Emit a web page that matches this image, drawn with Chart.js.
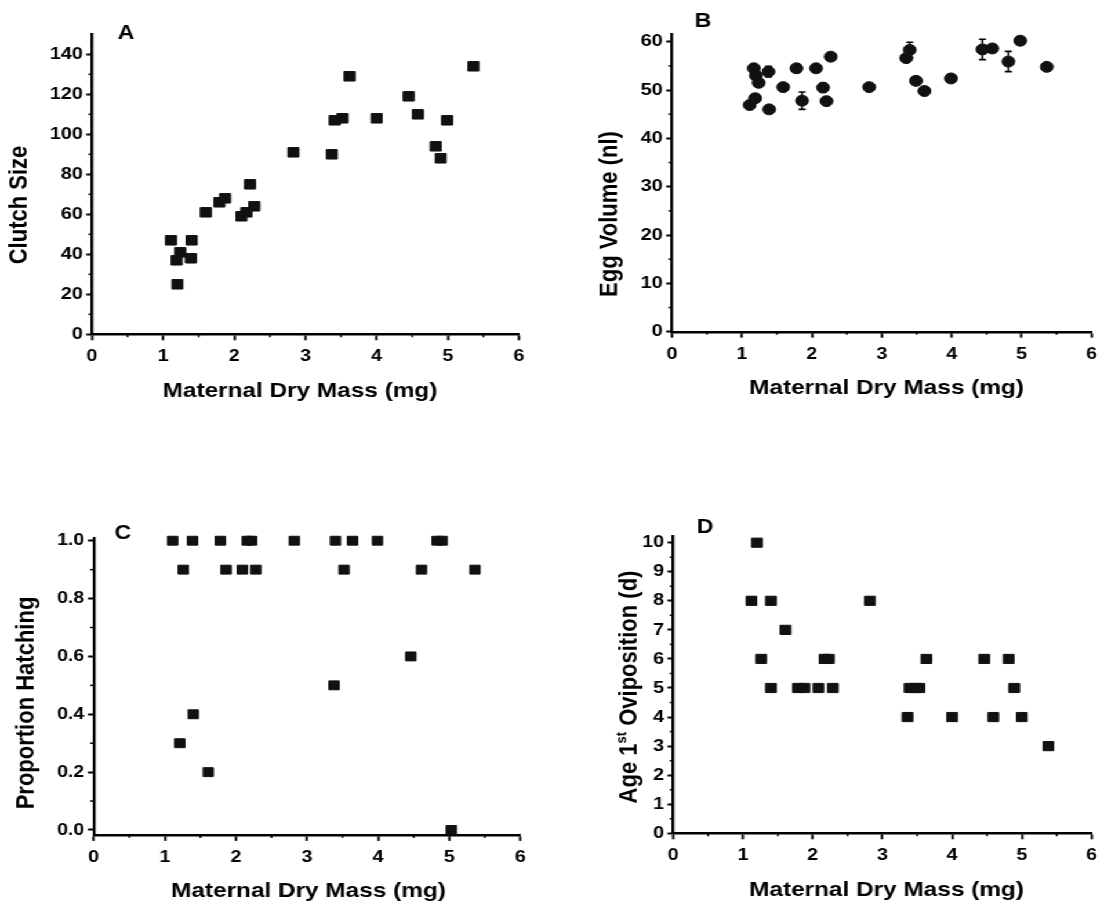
<!DOCTYPE html>
<html>
<head>
<meta charset="utf-8">
<script src="https://cdn.jsdelivr.net/npm/chart.js@4/dist/chart.umd.min.js"></script>
<style>
  html, body { margin: 0; padding: 0; background: #fff; }
  #figure { position: relative; width: 1104px; height: 906px; overflow: hidden; }
  /* the printed figure is wider than tall-set type would be, so the canvases are stretched sideways */
  #stretch { position: absolute; left: 0; top: 0; width: 952px; height: 906px;
             transform: scaleX(1.15966); transform-origin: 0 0; }
  #stretch canvas { position: absolute; left: 0; top: 0; }
</style>
</head>
<body>
<div id="figure">
  <div id="stretch">
    <canvas id="panelA" width="952" height="906"></canvas>
    <canvas id="panelB" width="952" height="906"></canvas>
    <canvas id="panelC" width="952" height="906"></canvas>
    <canvas id="panelD" width="952" height="906"></canvas>
  </div>
</div>
<script>
// A: clutch size vs maternal dry mass
const massA      = [1.11, 1.19, 1.20, 1.24, 1.40, 1.39, 1.60, 1.79, 1.87, 2.10, 2.17, 2.22, 2.28, 2.83, 3.37, 3.41, 3.52, 3.62, 4.00, 4.45, 4.58, 4.83, 4.90, 4.99, 5.36];
const clutchSize = [47, 37, 25, 41, 47, 38, 61, 66, 68, 59, 61, 75, 64, 91, 90, 107, 108, 129, 108, 119, 110, 94, 88, 107, 134];

// B: mean egg volume (nl) with its error
const massB     = [1.11, 1.17, 1.19, 1.20, 1.24, 1.38, 1.39, 1.59, 1.78, 1.86, 2.06, 2.16, 2.21, 2.27, 2.82, 3.35, 3.40, 3.49, 3.61, 3.99, 4.44, 4.58, 4.81, 4.98, 5.36];
const eggVolume = [46.9, 54.5, 48.3, 53.0, 51.5, 53.8, 46.0, 50.6, 54.5, 47.8, 54.5, 50.5, 47.7, 56.9, 50.6, 56.6, 58.3, 51.9, 49.8, 52.4, 58.4, 58.6, 55.9, 60.2, 54.8];
const eggVolErr = [0.6, 0.7, 0.6, 0.6, 0.6, 1.1, 0.6, 0.6, 0.6, 1.8, 0.8, 0.9, 0.8, 0.6, 0.6, 0.7, 1.6, 0.6, 0.6, 0.6, 2.1, 0.6, 2.1, 0.6, 0.6];

// C: proportion of eggs hatching
const massC    = [1.11, 1.21, 1.26, 1.39, 1.40, 1.61, 1.78, 1.86, 2.09, 2.16, 2.22, 2.28, 2.82, 3.38, 3.40, 3.52, 3.64, 3.99, 4.46, 4.61, 4.83, 4.90, 5.03, 5.36];
const hatching = [1.0, 0.3, 0.9, 1.0, 0.4, 0.2, 1.0, 0.9, 0.9, 1.0, 1.0, 0.9, 1.0, 0.5, 1.0, 0.9, 1.0, 1.0, 0.6, 0.9, 1.0, 1.0, 0.0, 0.9];

// D: age at first oviposition (days)
const massD   = [1.12, 1.20, 1.26, 1.40, 1.40, 1.61, 1.79, 1.88, 2.08, 2.17, 2.23, 2.29, 2.82, 3.36, 3.39, 3.47, 3.53, 3.63, 4.00, 4.46, 4.59, 4.81, 4.89, 5.00, 5.38];
const ageOvip = [8, 10, 6, 8, 5, 7, 5, 5, 5, 6, 6, 5, 8, 4, 5, 5, 5, 6, 4, 6, 4, 6, 5, 4, 3];

// tick values
const massTicks   = [0, 1, 2, 3, 4, 5, 6];
const clutchTicks = [0, 20, 40, 60, 80, 100, 120, 140];
const volumeTicks = [0, 10, 20, 30, 40, 50, 60];
const hatchTicks  = [0, 0.2, 0.4, 0.6, 0.8, 1.0];
const ageTicks    = [0, 1, 2, 3, 4, 5, 6, 7, 8, 9, 10];

const SX = 1104 / 952;                 // sideways stretch set in the CSS
const cx = v => v / SX;                // page x -> canvas x
const FONT = "'Liberation Sans', Arial, Helvetica, sans-serif";
const Y_W = 40, X_H = 30;              // fixed axis band sizes (canvas px)

Chart.defaults.font.family = FONT;
Chart.defaults.color = '#000';

// small unlabeled ticks halfway between the labeled ones
const minorTicks = {
  id: 'minorTicks',
  afterDraw(chart) {
    const ctx = chart.ctx;
    ctx.save();
    ctx.strokeStyle = '#000';
    ctx.lineWidth = 1.5;
    for (const scale of [chart.scales.x, chart.scales.y]) {
      const t = scale.ticks.map(k => k.value);
      for (let i = 0; i < t.length - 1; i++) {
        const p = scale.getPixelForValue((t[i] + t[i + 1]) / 2);
        ctx.beginPath();
        if (scale.isHorizontal()) { ctx.moveTo(p, scale.top); ctx.lineTo(p, scale.top + 3); }
        else { ctx.moveTo(scale.right, p); ctx.lineTo(scale.right - 3, p); }
        ctx.stroke();
      }
    }
    ctx.restore();
  }
};

// vertical error bars with caps, read from dataset.errorBars
const errorBars = {
  id: 'errorBars',
  beforeDatasetsDraw(chart) {
    const ds = chart.data.datasets[0];
    if (!ds.errorBars) return;
    const {ctx, scales: {x, y}} = chart;
    ctx.save();
    ctx.strokeStyle = '#000';
    ctx.lineWidth = 1.6;
    ds.data.forEach((p, i) => {
      const e = ds.errorBars[i];
      const px = x.getPixelForValue(p.x);
      const top = y.getPixelForValue(p.y + e);
      const bot = y.getPixelForValue(p.y - e);
      ctx.beginPath();
      ctx.moveTo(px, top); ctx.lineTo(px, bot);
      ctx.moveTo(px - 3, top); ctx.lineTo(px + 3, top);
      ctx.moveTo(px - 3, bot); ctx.lineTo(px + 3, bot);
      ctx.stroke();
    });
    ctx.restore();
  }
};

// axis titles and the panel letter
function textPlugin(p) {
  return {
    id: 'panelText',
    afterDraw(chart) {
      const ctx = chart.ctx;
      ctx.save();
      ctx.fillStyle = '#000';
      ctx.textBaseline = 'middle';

      ctx.textAlign = 'center';
      ctx.font = `bold 21px ${FONT}`;
      ctx.fillText('Maternal Dry Mass (mg)', cx(p.xTitleAt[0]), p.xTitleAt[1]);

      ctx.font = `bold 20px ${FONT}`;
      ctx.fillText(p.letter, cx(p.letterAt[0]), p.letterAt[1]);

      // rotated y title, possibly with a superscript run
      ctx.translate(cx(p.yTitleAt[0]), p.yTitleAt[1]);
      ctx.rotate(-Math.PI / 2);
      ctx.textAlign = 'left';
      const runFont = r => r.sup ? `bold 13px ${FONT}` : `bold 22px ${FONT}`;
      let total = 0;
      for (const r of p.yTitle) { ctx.font = runFont(r); total += ctx.measureText(r.text).width; }
      let x = -total / 2;
      for (const r of p.yTitle) {
        ctx.font = runFont(r);
        ctx.fillText(r.text, x, r.sup ? -7 : 0);
        x += ctx.measureText(r.text).width;
      }
      ctx.restore();
    }
  };
}

const panels = [
  {
    canvas: 'panelA', letter: 'A', xs: massA, ys: clutchSize,
    yTicks: clutchTicks, yMin: 0, yMax: 150, fmt: v => v,
    box: {left: 92, right: 519, top: 34.3, bottom: 334.3},
    yTitle: [{text: 'Clutch Size'}], yTitleAt: [20, 205],
    xTitleAt: [300, 390.8], letterAt: [126, 33.5],
    style: 'rect', radius: 6.7
  },
  {
    canvas: 'panelB', letter: 'B', xs: massB, ys: eggVolume, err: eggVolErr,
    yTicks: volumeTicks, yMin: 0, yMax: 61.5, fmt: v => v,
    box: {left: 672, right: 1097.5, top: 34.45, bottom: 331.7},
    yTitle: [{text: 'Egg Volume (nl)'}], yTitleAt: [610, 214],
    xTitleAt: [886.5, 388.2], letterAt: [703, 21],
    style: 'circle', radius: 5.5
  },
  {
    canvas: 'panelC', letter: 'C', xs: massC, ys: hatching,
    yTicks: hatchTicks, yMin: -0.017, yMax: 1.008, fmt: v => v.toFixed(1),
    box: {left: 93.7, right: 520.4, top: 538.4, bottom: 834.9},
    yTitle: [{text: 'Proportion Hatching'}], yTitleAt: [27, 703],
    xTitleAt: [308.5, 891.4], letterAt: [123, 533],
    style: 'rect', radius: 6.3
  },
  {
    canvas: 'panelD', letter: 'D', xs: massD, ys: ageOvip,
    yTicks: ageTicks, yMin: 0, yMax: 10.23, fmt: v => v,
    box: {left: 673.3, right: 1099, top: 536, bottom: 833.3},
    yTitle: [{text: 'Age 1'}, {text: 'st', sup: true}, {text: ' Oviposition (d)'}], yTitleAt: [630, 687],
    xTitleAt: [886.5, 889.8], letterAt: [705, 527],
    style: 'rect', radius: 6.5
  }
];

const axisFont = {family: FONT, size: 17, weight: 'bold'};

panels.forEach(p => {
  const ctx = document.getElementById(p.canvas).getContext('2d');
  new Chart(ctx, {
    type: 'scatter',
    data: {
      datasets: [{
        data: p.xs.map((x, i) => ({x: x, y: p.ys[i]})),
        errorBars: p.err,
        pointStyle: p.style,
        pointRadius: p.radius,
        pointHoverRadius: p.radius,
        backgroundColor: '#111',
        borderColor: '#111',
        borderWidth: 1,
        clip: false
      }]
    },
    options: {
      responsive: false,
      animation: false,
      events: [],
      layout: {
        padding: {
          left: cx(p.box.left) - Y_W,
          right: 952 - cx(p.box.right),
          top: p.box.top,
          bottom: 906 - p.box.bottom - X_H
        }
      },
      plugins: { legend: {display: false}, tooltip: {enabled: false} },
      scales: {
        x: {
          type: 'linear', min: 0, max: 6,
          afterBuildTicks: s => { s.ticks = massTicks.map(v => ({value: v})); },
          afterFit: s => { s.height = X_H; },
          ticks: { font: axisFont, color: '#000', padding: 6, autoSkip: false, maxRotation: 0 },
          grid: { drawOnChartArea: false, tickLength: 6, tickWidth: 2, tickColor: '#000' },
          border: { color: '#000', width: 2.4 }
        },
        y: {
          type: 'linear', min: p.yMin, max: p.yMax,
          afterBuildTicks: s => { s.ticks = p.yTicks.map(v => ({value: v})); },
          afterFit: s => { s.width = Y_W; },
          ticks: { font: axisFont, color: '#000', padding: 3, autoSkip: false, callback: p.fmt },
          grid: { drawOnChartArea: false, tickLength: 5, tickWidth: 2, tickColor: '#000' },
          border: { color: '#000', width: 2.4 }
        }
      }
    },
    plugins: [errorBars, minorTicks, textPlugin(p)]
  });
});
</script>
</body>
</html>
